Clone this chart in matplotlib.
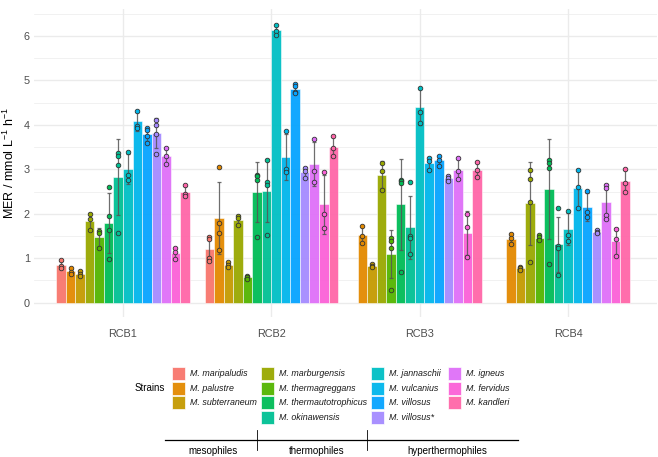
import numpy as np
import matplotlib
matplotlib.use("Agg")
import matplotlib.pyplot as plt
from matplotlib.patches import Rectangle
from matplotlib.lines import Line2D

plt.rcParams['font.family'] = ['Liberation Sans', 'DejaVu Sans']
plt.rcParams['mathtext.fontset'] = 'custom'
plt.rcParams['mathtext.rm'] = 'Liberation Sans'

groups = ["RCB1", "RCB2", "RCB3", "RCB4"]
strains = ["M. maripaludis", "M. palustre", "M. subterraneum", "M. marburgensis",
           "M. thermagreggans", "M. thermautotrophicus", "M. okinawensis",
           "M. jannaschii", "M. vulcanius", "M. villosus", "M. villosus*",
           "M. igneus", "M. fervidus", "M. kandleri"]
colors = ["#F8766D", "#E38900", "#C49A00", "#99A800", "#53B400", "#00BC56", "#00C094",
          "#00BFC4", "#00B6EB", "#06A4FF", "#A58AFF", "#DF70F8", "#FB61D7", "#FF66A8"]

# replicate measurements per strain (None = strain not measured in that group)
rcb1 = [[0.96, 0.82, 0.78], [0.77, 0.70, 0.65], [0.72, 0.65, 0.60], [2.00, 1.88, 1.64],
        [1.62, 1.57, 1.23], [2.60, 1.94, 1.64, 0.99], [3.37, 3.30, 3.10, 1.57],
        [3.40, 2.88, 2.75], [4.32, 3.98, 3.93], [3.93, 3.88, 3.76, 3.60],
        [4.10, 4.00, 3.80, 3.35], [3.47, 3.30, 3.13], [1.22, 1.15, 0.98], [2.64, 2.45, 2.40]]
rcb2 = [[1.48, 1.43, 1.00, 0.94], [3.06, 1.79, 1.56, 1.19], [0.92, 0.85, 0.80], [1.95, 1.90, 1.75],
        [0.61, 0.58, 0.54], [2.87, 2.85, 2.76, 1.47], [3.21, 2.71, 2.65, 1.52],
        [6.25, 6.12, 6.02], [3.87, 3.01, 2.95], [4.93, 4.87, 4.75, 4.72],
        [3.03, 2.96, 2.80], [3.68, 2.97, 2.72], [2.95, 1.99, 1.69], [3.75, 3.48, 3.30]]
rcb3 = [None, [1.73, 1.49, 1.34], [0.86, 0.82, 0.80], [3.14, 2.96, 2.54],
        [1.46, 1.39, 1.24, 0.29], [2.76, 2.74, 2.69, 0.68], [2.72, 1.51, 1.45, 1.09],
        [4.84, 4.30, 4.05], [3.26, 3.19, 2.99], [3.30, 3.22, 3.08],
        [2.85, 2.80, 2.74], [3.25, 2.96, 2.78], [2.00, 1.70, 1.03], [3.17, 2.99, 2.83]]
rcb4 = [None, [1.55, 1.45, 1.33], [0.81, 0.77, 0.73], [2.99, 2.78, 2.27, 0.92],
        [1.52, 1.47, 1.40], [3.21, 3.15, 3.02, 0.87], [2.12, 1.28, 1.24, 0.62],
        [2.06, 1.52, 1.39], [2.99, 2.61, 2.14], [2.52, 2.05, 1.92],
        [1.63, 1.60, 1.56], [2.65, 2.57, 1.98, 1.88], [1.65, 1.43, 1.06], [3.01, 2.69, 2.50]]
group_data = [rcb1, rcb2, rcb3, rcb4]

legend_cols = [[0, 1, 2], [3, 4, 5, 6], [7, 8, 9, 10], [11, 12, 13]]
legend_col_x = [171.7, 260.7, 370.7, 448.3]
legend_row_y = [373.3, 388.3, 402.9, 417.7]
class_labels = ["mesophiles", "thermophiles", "hyperthermophiles"]

W, H = 658, 457
fig = plt.figure(figsize=(W / 100, H / 100), dpi=100)

def fx(x):
    return x / W

def fy(y):
    return 1 - y / H

ax_l, ax_r, ax_t, ax_b = 34, 657, 9.3, 317.4
ax = fig.add_axes([fx(ax_l), fy(ax_b), (ax_r - ax_l) / W, (ax_b - ax_t) / H])
ax.set_xlim(0.4, 4.6)
ax.set_ylim(-0.33, 6.6)

grid_c = "#EBEBEB"
for v in np.arange(0.5, 6.6, 1.0):
    ax.axhline(v, color=grid_c, lw=0.5, zorder=0)
for v in range(0, 7):
    ax.axhline(v, color=grid_c, lw=1.0, zorder=0)
for g in range(len(groups)):
    ax.axvline(g + 1, color=grid_c, lw=1.0, zorder=0)

bw = 0.9 / len(strains)
for g, data in enumerate(group_data):
    present = [i for i, d in enumerate(data) if d is not None]
    n = len(present)
    for k, i in enumerate(present):
        pts = np.array(data[i])
        m = pts.mean()
        sd = pts.std(ddof=1)
        x = g + 1 + (k - (n - 1) / 2) * bw
        ax.bar(x, m, width=bw, color=colors[i], edgecolor="white", linewidth=0.4,
               alpha=0.95, zorder=2)
        ax.errorbar(x, m, yerr=sd, fmt="none", ecolor="#555555", elinewidth=0.9,
                    capsize=1.3, capthick=0.9, alpha=0.85, zorder=3)
        ax.scatter(np.full(len(pts), x), pts, s=11, facecolor=colors[i],
                   edgecolor="#333333", linewidth=0.6, zorder=4)

for s in ax.spines.values():
    s.set_visible(False)
ax.set_xticks(range(1, len(groups) + 1))
ax.set_xticklabels(groups)
ax.set_yticks(range(0, 7))
ax.tick_params(length=0, labelsize=7.8, labelcolor="#4D4D4D")
ax.tick_params(axis="x", pad=8)
ax.tick_params(axis="y", pad=3)
ax.set_ylabel(r"MER / mmol L$^{-1}$ h$^{-1}$", fontsize=9, labelpad=5, color="black")

# legend (drawn manually)
fig.text(fx(165), fy(388.3), "Strains", ha="right", va="center", fontsize=7, color="black")
ks = 13
for c, col in enumerate(legend_cols):
    for r, i in enumerate(col):
        x0 = legend_col_x[c]
        yc = legend_row_y[r]
        fig.patches.append(Rectangle((fx(x0), fy(yc + ks / 2)), ks / W, ks / H,
                                     transform=fig.transFigure, facecolor=colors[i],
                                     edgecolor="white", linewidth=0.5, alpha=0.95))
        fig.text(fx(x0 + ks + 5), fy(yc), strains[i], ha="left", va="center",
                 fontsize=6.4, style="italic", color="#1A1A1A")

# temperature classes
fig.add_artist(Line2D([fx(165), fx(518.3)], [fy(440), fy(440)], color="black", lw=0.9,
                      transform=fig.transFigure))
for xv in [256.7, 367.3]:
    fig.add_artist(Line2D([fx(xv), fx(xv)], [fy(430), fy(450)], color="black", lw=0.6,
                          transform=fig.transFigure))
for lab, xc in zip(class_labels, [213.3, 316.3, 447]):
    fig.text(fx(xc), fy(451), lab, ha="center", va="center", fontsize=7, color="black")

fig.savefig("out.png", dpi=100)
